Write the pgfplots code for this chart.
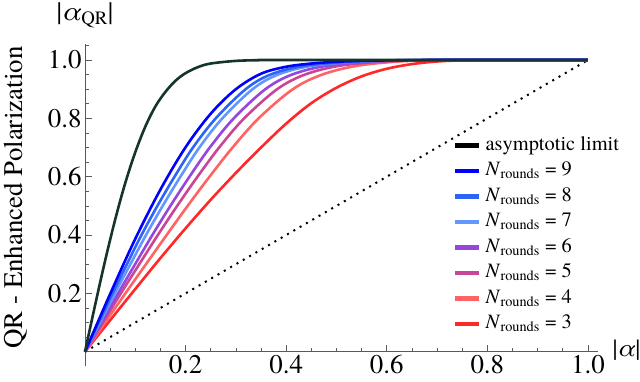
\documentclass[border=0pt]{standalone}
\usepackage{fontspec}
\IfFontExistsTF{texgyretermes-regular.otf}{%
  \setmainfont{texgyretermes}[Extension=.otf, UprightFont=*-regular, ItalicFont=*-italic,
    BoldFont=*-bold, BoldItalicFont=*-bolditalic]}{%
  \setmainfont{Liberation Serif}}
\usepackage{pgfplots}
\pgfplotsset{compat=1.18}

\definecolor{asym}{RGB}{22,52,46}
\definecolor{nnine}{RGB}{0,0,255}
\definecolor{neight}{RGB}{45,100,245}
\definecolor{nseven}{RGB}{100,150,255}
\definecolor{nsix}{RGB}{150,70,220}
\definecolor{nfive}{RGB}{200,70,150}
\definecolor{nfour}{RGB}{255,100,100}
\definecolor{nthree}{RGB}{255,40,40}
\definecolor{axgray}{RGB}{90,90,90}

\newcommand{\nr}[1]{\textit{N}\textsubscript{rounds} = #1}

\begin{document}
\begin{tikzpicture}
\begin{axis}[
    scale only axis,
    width=513bp, height=322.3bp,
    xmin=0, xmax=1.02,
    ymin=-0.05, ymax=1.055,
    axis lines=middle,
    axis line style={axgray, line width=0.6bp, -},
    tick style={axgray, line width=0.6bp},
    tick align=inside,
    major tick length=7bp, minor tick length=4bp,
    xtick={0.2,0.4,0.6,0.8,1.0},
    ytick={0.2,0.4,0.6,0.8,1.0},
    minor xtick={0.05,0.1,0.15,0.25,0.3,0.35,0.45,0.5,0.55,0.65,0.7,0.75,0.85,0.9,0.95},
    minor ytick={0.05,0.1,0.15,0.25,0.3,0.35,0.45,0.5,0.55,0.65,0.7,0.75,0.85,0.9,0.95,1.05},
    /pgf/number format/.cd, fixed, fixed zerofill, precision=1, assume math mode=true,
    /pgfplots/.cd,
    ticklabel style={font=\rmfamily\fontsize{27}{30}\selectfont},
    clip=false,
    legend cell align=left,
    legend image code/.code={\draw[#1, line width=4.5bp] (0bp,0bp) -- (24bp,0bp);},
    legend style={at={(axis cs:0.7316,0.7395)}, anchor=north west, draw=none, fill=none,
        inner sep=0pt, row sep=6.5bp,
        font=\rmfamily\fontsize{20.5}{24}\selectfont,
        nodes={text height=14bp, text depth=5bp, inner ysep=0pt, inner xsep=4bp}},
]

\addlegendimage{black}\addlegendentry{asymptotic limit}
\addlegendimage{nnine}\addlegendentry{\nr{9}}
\addlegendimage{neight}\addlegendentry{\nr{8}}
\addlegendimage{nseven}\addlegendentry{\nr{7}}
\addlegendimage{nsix}\addlegendentry{\nr{6}}
\addlegendimage{nfive}\addlegendentry{\nr{5}}
\addlegendimage{nfour}\addlegendentry{\nr{4}}
\addlegendimage{nthree}\addlegendentry{\nr{3}}

% y = x reference
\addplot[forget plot, black, line width=2bp, dash pattern=on 2bp off 5.3bp] coordinates {(0,0) (1,1)};

% N rounds = 3
\addplot[forget plot, nthree, line width=2.6bp, smooth, tension=0.55] coordinates {
(0,0) (0.05,0.108) (0.1,0.215) (0.15,0.321) (0.2,0.423) (0.25,0.521) (0.3,0.613)
(0.35,0.700) (0.4,0.782) (0.45,0.852) (0.5,0.905) (0.55,0.944) (0.6,0.970)
(0.65,0.986) (0.7,0.995) (0.75,0.999) (0.8,1) (1,1)
};
% N rounds = 4
\addplot[forget plot, nfour, line width=2.6bp, smooth, tension=0.55] coordinates {
(0,0) (0.0400,0.1) (0.0803,0.2) (0.1212,0.3) (0.1623,0.4) (0.2041,0.5) (0.2476,0.6)
(0.2934,0.7) (0.3452,0.8) (0.4133,0.9) (0.4715,0.95) (0.5399,0.98) (0.6230,0.995)
(0.695,0.999) (0.758,1) (1,1)
};
% N rounds = 5
\addplot[forget plot, nfive, line width=2.6bp, smooth, tension=0.55] coordinates {
(0,0) (0.0356,0.1) (0.0713,0.2) (0.1079,0.3) (0.1449,0.4) (0.1833,0.5) (0.2237,0.6)
(0.2667,0.7) (0.3165,0.8) (0.3820,0.9) (0.4372,0.95) (0.5050,0.98) (0.5937,0.995)
(0.674,0.999) (0.742,1) (1,1)
};
% N rounds = 6
\addplot[forget plot, nsix, line width=2.6bp, smooth, tension=0.55] coordinates {
(0,0) (0.0329,0.1) (0.0658,0.2) (0.0997,0.3) (0.1339,0.4) (0.1698,0.5) (0.2077,0.6)
(0.2481,0.7) (0.2958,0.8) (0.3586,0.9) (0.4115,0.95) (0.4789,0.98) (0.5717,0.995)
(0.6583,0.999) (0.73,1) (1,1)
};
% N rounds = 7
\addplot[forget plot, nseven, line width=2.6bp, smooth, tension=0.55] coordinates {
(0,0) (0.0297,0.1) (0.0594,0.2) (0.0903,0.3) (0.1213,0.4) (0.1545,0.5) (0.1897,0.6)
(0.2274,0.7) (0.2731,0.8) (0.3332,0.9) (0.3836,0.95) (0.4506,0.98) (0.5479,0.995)
(0.6413,0.999) (0.717,1) (1,1)
};
% N rounds = 8
\addplot[forget plot, neight, line width=2.6bp, smooth, tension=0.55] coordinates {
(0,0) (0.0274,0.1) (0.0548,0.2) (0.0833,0.3) (0.1123,0.4) (0.1440,0.5) (0.1780,0.6)
(0.2147,0.7) (0.2600,0.8) (0.3195,0.9) (0.3686,0.95) (0.4354,0.98) (0.5350,0.995)
(0.6321,0.999) (0.71,1) (1,1)
};
% N rounds = 9
\addplot[forget plot, nnine, line width=2.6bp, smooth, tension=0.55] coordinates {
(0,0) (0.05,0.198) (0.1,0.387) (0.15,0.556) (0.2,0.701) (0.25,0.816) (0.3,0.900)
(0.35,0.953) (0.4,0.977) (0.45,0.988) (0.5,0.994) (0.55,0.997) (0.6,0.9987)
(0.65,0.9995) (0.7,1) (1,1)
};
% asymptotic limit
\addplot[forget plot, asym, line width=2.6bp, smooth, tension=0.55] coordinates {
(0,0) (0.02,0.159) (0.04,0.312) (0.06,0.453) (0.08,0.578) (0.1,0.684) (0.12,0.772)
(0.14,0.841) (0.16,0.891) (0.18,0.929) (0.2,0.955) (0.225,0.976) (0.25,0.988)
(0.3,0.997) (0.35,0.9995) (0.4,1) (1,1)
};

\coordinate (O) at (axis cs:0,0);
\node[font=\rmfamily\fontsize{27}{30}\selectfont] at (axis cs:0,1.154) {|\textit{α}\textsubscript{QR}|};
\node[font=\rmfamily\fontsize{25}{28}\selectfont, inner sep=0pt, anchor=west] at (axis cs:1.0487,0.005) {|\textit{α}|};
\node[font=\rmfamily\fontsize{27}{30}\selectfont, xshift=-69bp, rotate=90] at (axis cs:0,0.5286) {QR - Enhanced Polarization};
\end{axis}
\pgfresetboundingbox
\path (O) ++(-85bp,-30.3bp) rectangle ++(640bp,382bp);
\end{tikzpicture}
\end{document}
